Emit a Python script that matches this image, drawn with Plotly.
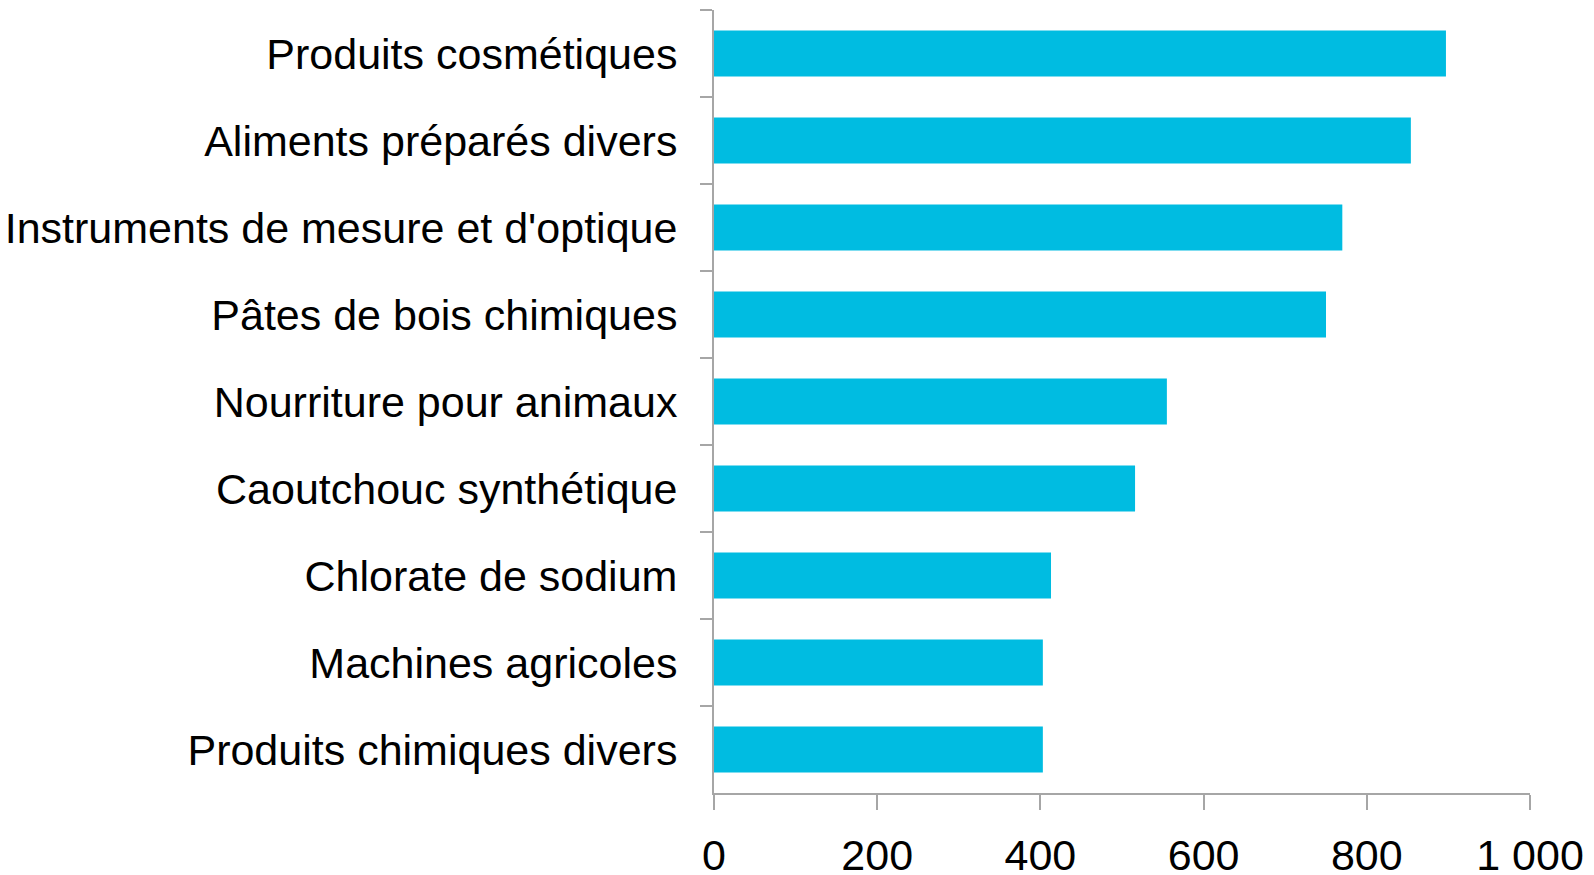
import plotly.graph_objects as go

# categories, listed top to bottom as in the chart
categories = [
    "Produits cosmétiques",
    "Aliments préparés divers",
    "Instruments de mesure et d'optique",
    "Pâtes de bois chimiques",
    "Nourriture pour animaux",
    "Caoutchouc synthétique",
    "Chlorate de sodium",
    "Machines agricoles",
    "Produits chimiques divers",
]
values = [897, 854, 770, 750, 555, 516, 413, 403, 403]

x_tickvals = [0, 200, 400, 600, 800, 1000]
x_ticktext = ["0", "200", "400", "600", "800", "1 000"]

axis_grey = "#A6A6A6"
font_name = "Liberation Sans, Arial, sans-serif"

fig = go.Figure()

fig.add_trace(go.Bar(
    x=values,
    y=categories,
    orientation="h",
    marker=dict(color="#00BCE1", line=dict(width=0)),
))

# page body adds 8px, so margins are shifted to compensate
fig.update_layout(
    width=1594,
    height=875,
    margin=dict(l=706, r=72, t=2, b=90),
    paper_bgcolor="white",
    plot_bgcolor="white",
    bargap=0.47,
    showlegend=False,
    font=dict(family=font_name, size=43, color="black"),
)

fig.update_xaxes(
    range=[0, 1000],
    tickvals=x_tickvals,
    ticktext=x_ticktext,
    ticks="outside",
    ticklen=15,
    tickwidth=2,
    tickcolor=axis_grey,
    showline=True,
    linecolor=axis_grey,
    linewidth=2,
    showgrid=False,
    zeroline=False,
    ticklabelstandoff=8,
    automargin=False,
)

fig.update_yaxes(
    autorange="reversed",
    tickson="boundaries",
    ticks="outside",
    ticklen=12,
    tickwidth=2,
    tickcolor=axis_grey,
    showline=True,
    linecolor=axis_grey,
    linewidth=2,
    showgrid=False,
    ticklabelstandoff=26,
    automargin=False,
)

fig.write_html("out.html")
